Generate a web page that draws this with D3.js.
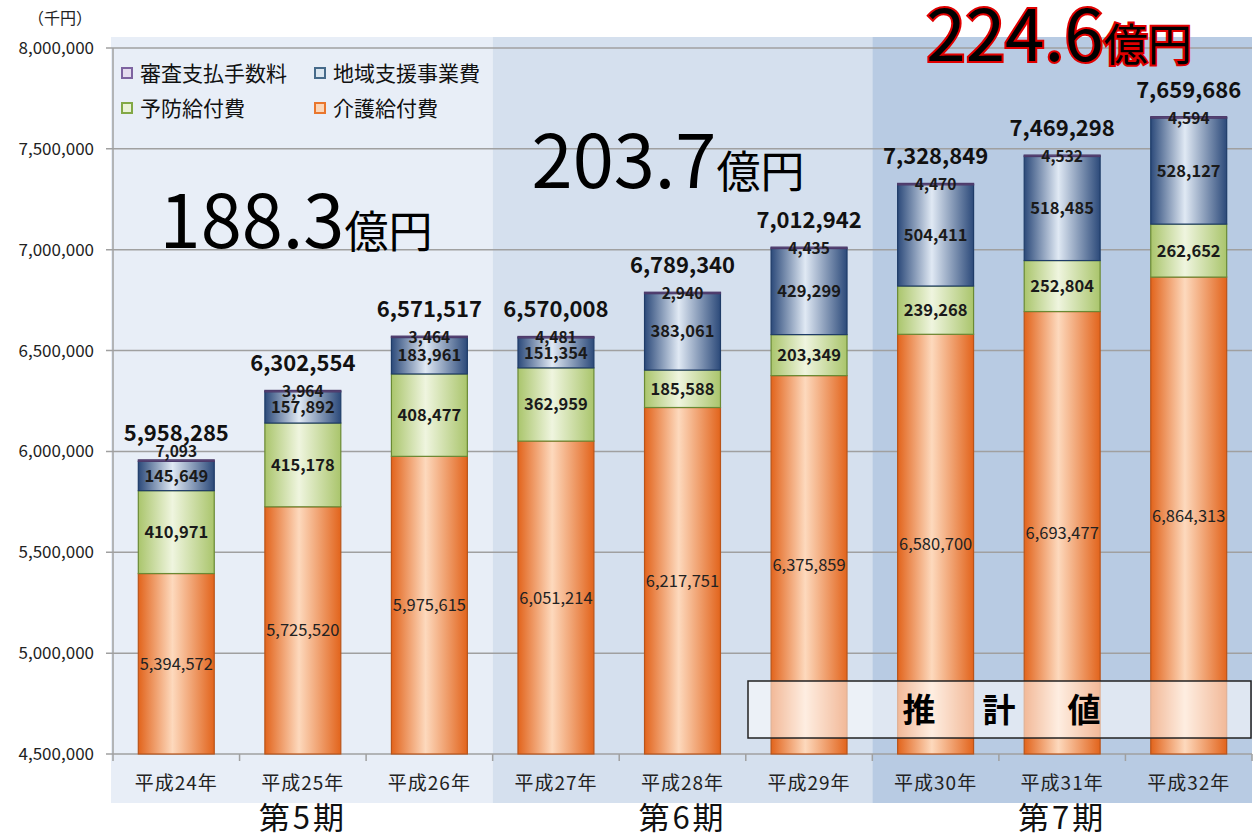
<!doctype html>
<html>
<head>
<meta charset="utf-8">
<script src="https://d3js.org/d3.v7.min.js"></script>
<style>
  body { margin: 0; background: #fff; }
  text { font-family: "Noto Sans CJK JP", "Noto Sans", sans-serif; }
</style>
</head>
<body>
<svg width="1253" height="838"></svg>
<script>
// ---- data ----
var years = ["平成24年", "平成25年", "平成26年", "平成27年", "平成28年", "平成29年", "平成30年", "平成31年", "平成32年"];
var kaigo   = [5394572, 5725520, 5975615, 6051214, 6217751, 6375859, 6580700, 6693477, 6864313];
var yobou   = [410971, 415178, 408477, 362959, 185588, 203349, 239268, 252804, 262652];
var chiiki  = [145649, 157892, 183961, 151354, 383061, 429299, 504411, 518485, 528127];
var shinsa  = [7093, 3964, 3464, 4481, 2940, 4435, 4470, 4532, 4594];
var totals  = [5958285, 6302554, 6571517, 6570008, 6789340, 7012942, 7328849, 7469298, 7659686];
var periods = ["第5期", "第6期", "第7期"];
var periodSums = ["188.3", "203.7", "224.6"];
var yTicks = [4500000, 5000000, 5500000, 6000000, 6500000, 7000000, 7500000, 8000000];
var seriesNames = ["介護給付費", "予防給付費", "地域支援事業費", "審査支払手数料"];

var svg = d3.select("svg");
var fmt = d3.format(",");

var x = d3.scaleBand().domain(years).range([113, 1252]).paddingInner(0.4).paddingOuter(0.2);
var y = d3.scaleLinear().domain([4500000, 8000000]).range([754, 48]);
var step = x.step();

// gradients
var defs = svg.append("defs");
function grad(id, edge, mid, edge2) {
  var g = defs.append("linearGradient").attr("id", id).attr("x1", 0).attr("x2", 1).attr("y1", 0).attr("y2", 0);
  g.append("stop").attr("offset", "0%").attr("stop-color", edge);
  g.append("stop").attr("offset", "45%").attr("stop-color", mid);
  g.append("stop").attr("offset", "100%").attr("stop-color", edge2);
}
grad("gOrange", "#e2641c", "#fdd9bd", "#e2641c");
grad("gGreen", "#aac56c", "#eff5df", "#aac56c");
grad("gBlue", "#2c4a7a", "#e0e9f4", "#2c4a7a");
grad("gPurple", "#5b4778", "#8a76a8", "#5b4778");

// period background panels
var panelColors = ["#e8eef7", "#d5e0ee", "#b8cbe3"];
periods.forEach(function(p, i) {
  svg.append("rect")
    .attr("x", 113 + 3 * i * step - (i === 0 ? 2 : 0))
    .attr("y", 37)
    .attr("width", 3 * step + (i === 0 ? 2 : 0))
    .attr("height", 766)
    .attr("fill", panelColors[i]);
});

// gridlines + y axis
svg.append("g").selectAll("line").data(yTicks).enter().append("line")
  .attr("x1", 106).attr("x2", 1252)
  .attr("y1", function(d) { return y(d); }).attr("y2", function(d) { return y(d); })
  .attr("stroke", "#a0a0a0").attr("stroke-width", 1.5);
svg.append("line").attr("x1", 113).attr("x2", 113).attr("y1", y(8000000)).attr("y2", y(4500000))
  .attr("stroke", "#a0a0a0").attr("stroke-width", 1.5);
svg.append("g").selectAll("text").data(yTicks).enter().append("text")
  .attr("x", 94).attr("y", function(d) { return y(d) + 6; })
  .attr("text-anchor", "end").attr("font-size", 17).attr("fill", "#222")
  .text(function(d) { return fmt(d); });
svg.append("text").attr("x", 28).attr("y", 24).attr("font-size", 16).attr("fill", "#222").text("（千円）");

// x axis ticks & labels
d3.range(years.length + 1).forEach(function(k) {
  svg.append("line").attr("x1", 113 + k * step).attr("x2", 113 + k * step)
    .attr("y1", 754).attr("y2", 761).attr("stroke", "#a0a0a0").attr("stroke-width", 1.5);
});
svg.append("g").selectAll("text").data(years).enter().append("text")
  .attr("x", function(d) { return x(d) + x.bandwidth() / 2; }).attr("y", 790)
  .attr("text-anchor", "middle").attr("font-size", 19).attr("letter-spacing", 1).attr("fill", "#222")
  .text(function(d) { return d; });

// period labels
periods.forEach(function(p, i) {
  svg.append("text").attr("x", x(years[3 * i + 1]) + x.bandwidth() / 2).attr("y", 829)
    .attr("text-anchor", "middle").attr("font-size", 31).attr("letter-spacing", 3).attr("fill", "#111").text(p);
});

// big period totals
var bigPos = [[296, 248], [668, 188], [1059, 61]];
periodSums.forEach(function(s, i) {
  var t = svg.append("text").attr("x", bigPos[i][0]).attr("y", bigPos[i][1])
    .attr("text-anchor", "middle").attr("fill", "#000");
  if (i === 2) {
    t.attr("stroke", "#e00000").attr("stroke-width", 4).attr("paint-order", "stroke");
  }
  t.append("tspan").attr("font-size", i === 2 ? 71 : 74).text(s);
  t.append("tspan").attr("font-size", 44).text("億円");
});

// stacked bars
var stacks = years.map(function(yr, i) {
  var b0 = kaigo[i], b1 = b0 + yobou[i], b2 = b1 + chiiki[i], b3 = b2 + shinsa[i];
  return { year: yr, segs: [
    { lo: 4500000, hi: b0, v: kaigo[i], fill: "url(#gOrange)", stroke: "#b9541a" },
    { lo: b0, hi: b1, v: yobou[i], fill: "url(#gGreen)", stroke: "#6a8a34" },
    { lo: b1, hi: b2, v: chiiki[i], fill: "url(#gBlue)", stroke: "#1f3c68" },
    { lo: b2, hi: b3, v: shinsa[i], fill: "url(#gPurple)", stroke: "#4d3a6a" }
  ]};
});

var bars = svg.append("g").selectAll("g").data(stacks).enter().append("g");
bars.selectAll("rect").data(function(d) { return d.segs.map(function(s) { s.year = d.year; return s; }); })
  .enter().append("rect")
  .attr("x", function(d) { return x(d.year); })
  .attr("width", x.bandwidth())
  .attr("y", function(d) { return y(d.hi); })
  .attr("height", function(d) { return Math.max(1.5, y(d.lo) - y(d.hi)); })
  .attr("fill", function(d) { return d.fill; })
  .attr("stroke", function(d) { return d.stroke; })
  .attr("stroke-width", 1.2);

// segment labels
years.forEach(function(yr, i) {
  var cx = x(yr) + x.bandwidth() / 2;
  var s = stacks[i].segs;
  svg.append("text").attr("x", cx).attr("y", (y(s[0].lo) + y(s[0].hi)) / 2 + 6)
    .attr("text-anchor", "middle").attr("font-size", 16.5).attr("fill", "#222").text(fmt(kaigo[i]));
  [1, 2].forEach(function(k) {
    svg.append("text").attr("x", cx).attr("y", (y(s[k].lo) + y(s[k].hi)) / 2 + 6)
      .attr("text-anchor", "middle").attr("font-size", 16.5).attr("font-weight", "bold").attr("fill", "#1a1a1a")
      .text(fmt(s[k].v));
  });
  var topY = y(totals[i]);
  svg.append("text").attr("x", cx).attr("y", topY + 7 - (i === 0 ? 10 : 0))
    .attr("text-anchor", "middle").attr("font-size", 15.5).attr("font-weight", "bold").attr("fill", "#1a1a1a")
    .text(fmt(shinsa[i]));
  svg.append("text").attr("x", cx).attr("y", topY - 19)
    .attr("text-anchor", "middle").attr("font-size", 22).attr("font-weight", "bold").attr("fill", "#111")
    .text(fmt(totals[i]));
});

// legend
var legendItems = [
  { name: seriesNames[3], col: "#7d63a0", fill: "#e4dcef", lx: 122, ly: 73 },
  { name: seriesNames[2], col: "#466a8a", fill: "#dbe6f0", lx: 315, ly: 73 },
  { name: seriesNames[1], col: "#82a846", fill: "#eaf2d8", lx: 122, ly: 108 },
  { name: seriesNames[0], col: "#e9762d", fill: "#fbd6b8", lx: 315, ly: 108 }
];
var lg = svg.append("g").selectAll("g").data(legendItems).enter().append("g");
lg.append("rect").attr("x", function(d) { return d.lx; }).attr("y", function(d) { return d.ly - 5; })
  .attr("width", 10).attr("height", 10).attr("fill", function(d) { return d.fill; })
  .attr("stroke", function(d) { return d.col; }).attr("stroke-width", 2);
lg.append("text").attr("x", function(d) { return d.lx + 18; }).attr("y", function(d) { return d.ly + 8; })
  .attr("font-size", 21).attr("fill", "#111").text(function(d) { return d.name; });

// estimate box
svg.append("rect").attr("x", 748).attr("y", 681).attr("width", 503).attr("height", 57)
  .attr("fill", "#ffffff").attr("fill-opacity", 0.55).attr("stroke", "#222").attr("stroke-width", 1.5);
var est = ["推", "計", "値"];
var estX = [919, 999, 1084];
est.forEach(function(c, i) {
  svg.append("text").attr("x", estX[i]).attr("y", 722).attr("text-anchor", "middle")
    .attr("font-size", 33).attr("font-weight", "bold").attr("fill", "#000").text(c);
});
</script>
</body>
</html>
